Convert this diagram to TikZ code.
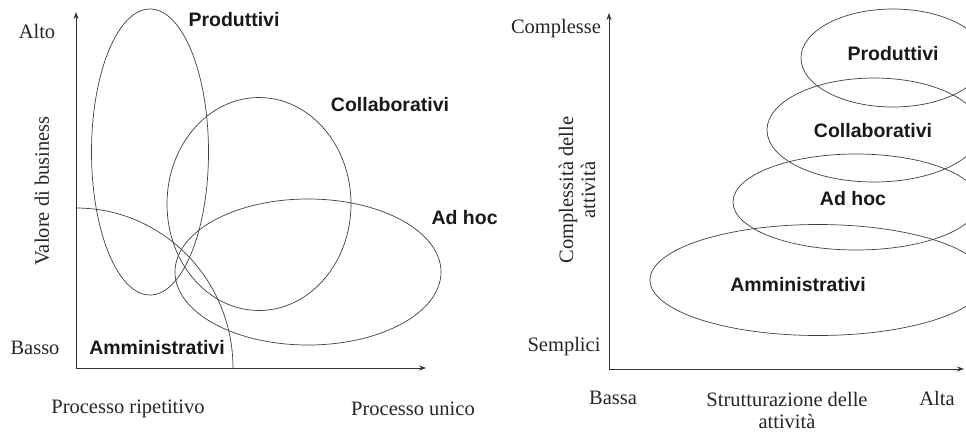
\documentclass[tikz,border=0pt]{standalone}
\usepackage{fontspec}
\setmainfont{Liberation Serif}
\newfontfamily\labfont{Liberation Sans}
\usetikzlibrary{shapes.geometric,arrows.meta}
\tikzset{
  axis/.style={draw=black!80, line width=0.8pt, -{Stealth[length=7pt,width=5pt]}},
  curve/.style={draw=black!75, line width=0.7pt},
  blob/.style={ellipse, curve, inner sep=0pt},
  scale text/.style={font=\fontsize{20.5}{22}\selectfont, text=black!85},
  class text/.style={font=\labfont\bfseries\fontsize{19.5}{22}\selectfont, text=black!90},
}
\begin{document}
\begin{tikzpicture}[x=1pt, y=-1pt]
  \clip (0,0) rectangle (966,432);
  \fill[white] (0,0) rectangle (966,432);

  % ---- left chart: business value vs. process type ----
  \coordinate (lo) at (76,368);
  \coordinate (ly) at (76,12);
  \coordinate (lx) at (426,368);
  \draw[axis] (lo) -- (ly);
  \draw[axis] (lo) -- (lx);

  \node[blob, minimum width=117pt, minimum height=286pt] (pE) at (150,152) {};
  \node[blob, minimum width=184pt, minimum height=213pt] (cE) at (259,204) {};
  \node[blob, minimum width=266pt, minimum height=146pt] (aE) at (308,272) {};
  \draw[curve] (76,208) arc[start angle=90, end angle=0, x radius=157pt, y radius=160pt];

  \node[scale text] (alto) at (37,31) {Alto};
  \node[scale text] (basso) at (35,348) {Basso};
  \node[scale text, rotate=90] (valore) at (42,191) {Valore di business};
  \node[scale text] (rip) at (128,409) {Processo ripetitivo};
  \node[scale text] (uni) at (413,409) {Processo unico};

  \node[class text] (pL) at (234,20) {Produttivi};
  \node[class text] (cL) at (390,105) {Collaborativi};
  \node[class text, anchor=west] (aL) at (428,218) {Ad hoc};
  \node[class text] (mL) at (157,348) {Amministrativi};

  % ---- right chart: task complexity vs. structuring ----
  \coordinate (ro) at (609,369);
  \coordinate (ry) at (609,13);
  \coordinate (rx) at (964,369);
  \draw[axis] (ro) -- (ry);
  \draw[axis] (ro) -- (rx);

  \node[blob, minimum width=184pt, minimum height=98pt] (pR) at (893,58) {};
  \node[blob, minimum width=214pt, minimum height=104pt] (cR) at (874,130) {};
  \node[blob, minimum width=246pt, minimum height=96pt] (aR) at (856,202) {};
  \node[blob, minimum width=336pt, minimum height=111pt] (mR) at (818,280) {};

  \node[scale text] (compl) at (556,29) {Complesse};
  \node[scale text] (sempl) at (564,347) {Semplici};
  \node[scale text, rotate=90, align=center] (cda) at (577,190) {Complessità delle\\attività};
  \node[scale text] (bassa) at (613,398) {Bassa};
  \node[scale text, align=center] (strut) at (787,410) {Strutturazione delle\\attività};
  \node[scale text] (alta) at (937,398) {Alta};

  \node[class text] (pRL) at (893,54) {Produttivi};
  \node[class text] (cRL) at (873,131) {Collaborativi};
  \node[class text] (aRL) at (853,199) {Ad hoc};
  \node[class text] (mRL) at (798,285) {Amministrativi};
\end{tikzpicture}
\end{document}
